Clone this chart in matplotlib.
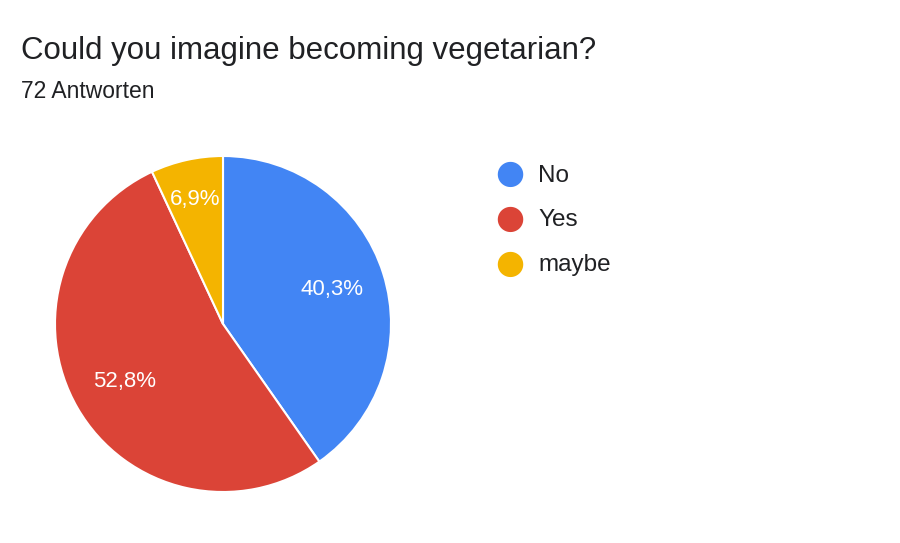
import matplotlib.pyplot as plt
import numpy as np

# answers to "Could you imagine becoming vegetarian?" (72 responses)
labels = ['No', 'Yes', 'maybe']
counts = [29, 38, 5]
colors = ['#4285F4', '#DB4437', '#F4B400']
title = 'Could you imagine becoming vegetarian?'
subtitle = '72 Antworten'

plt.rcParams['font.family'] = ['Liberation Sans', 'DejaVu Sans']

fig = plt.figure(figsize=(9, 5.43), dpi=100)
fig.text(21 / 900, 1 - 48 / 543, title, fontsize=22.5, color='#202124', va='center_baseline')
fig.text(21 / 900, 1 - 89 / 543, subtitle, fontsize=16.5, color='#202124', va='center_baseline')

ax = fig.add_axes([55 / 900, 51 / 543, 336 / 900, 336 / 543])
total = sum(counts)
wedges, texts, pcts = ax.pie(
    counts, colors=colors, startangle=90, counterclock=False,
    autopct=lambda p: f'{p:.1f}%'.replace('.', ','), pctdistance=0.68,
    wedgeprops=dict(edgecolor='white', linewidth=1.5),
    textprops=dict(color='white', fontsize=16))

# small slice label sits further out
for w, t, c in zip(wedges, pcts, counts):
    if c / total < 0.1:
        ang = np.deg2rad((w.theta1 + w.theta2) / 2)
        t.set_position((0.76 * np.cos(ang), 0.76 * np.sin(ang)))

ax.set_xlim(-1, 1)
ax.set_ylim(-1, 1)
ax.set_aspect('equal')

for i, (lab, col) in enumerate(zip(labels, colors)):
    y = 1 - (173 + i * 45) / 543
    fig.text(510 / 900, y, '\u25CF', color=col, fontsize=24, ha='center', va='center',
             family='DejaVu Sans')
    fig.text(538 / 900, y, lab, fontsize=17.5, color='#202124', va='center_baseline')

fig.savefig('out.png', dpi=100)
